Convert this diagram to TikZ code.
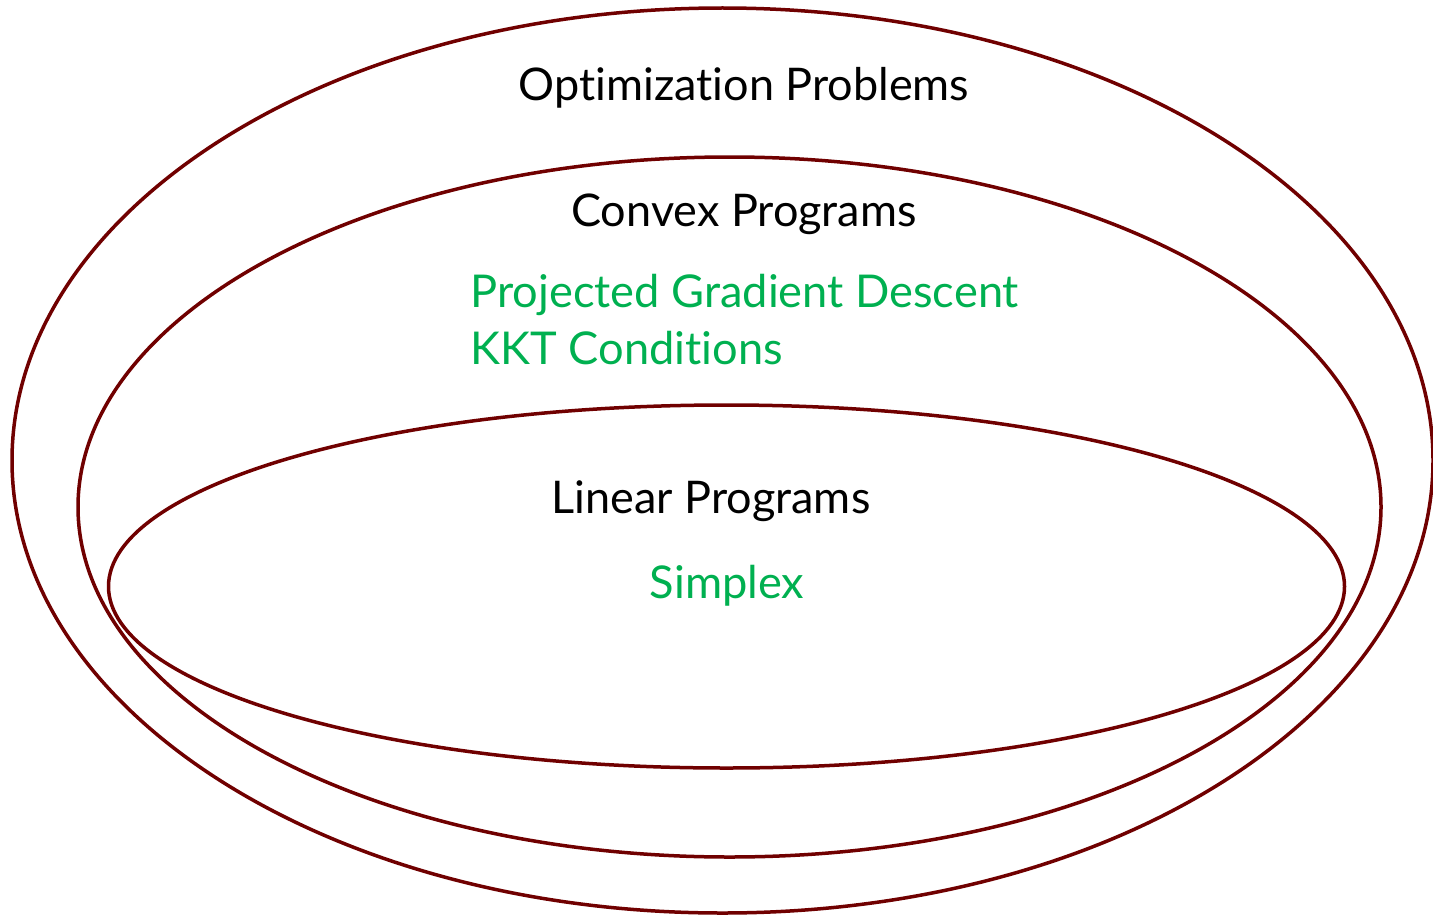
\documentclass[tikz,border=0pt]{standalone}
\usepackage{fontspec}
\setmainfont{Lato}[RawFeature={-liga;-dlig}]
\definecolor{ringred}{RGB}{112,0,0}
\definecolor{algogreen}{RGB}{0,176,80}
\tikzset{
  ring/.style={draw=ringred, line width=1.75pt},
  title/.style={font=\fontsize{22.5}{26}\selectfont, text=black, inner sep=0pt},
  algo/.style={font=\fontsize{22.6}{26}\selectfont, text=algogreen, inner sep=0pt},
}
\begin{document}
\begin{tikzpicture}[x=0.5pt,y=-0.5pt]
\useasboundingbox (0,0) rectangle (1433,915);
\draw[ring] (722.5,460.5) ellipse [x radius=355.25pt, y radius=226.25pt];
\draw[ring] (729.5,507) ellipse [x radius=325.75pt, y radius=175pt];
\draw[ring] (726.5,586.5) ellipse [x radius=309pt, y radius=90.75pt];
\node[title, anchor=base] (opt) at (744,101) {Optimization Problems};
\node[title, anchor=base] (cvx) at (744,226) {Convex Programs};
\node[algo, anchor=base west] (pgd) at (470,307) {Projected Gradient Descent};
\node[algo, anchor=base west] (kkt) at (470,364) {KKT Conditions};
\node[title, anchor=base] (lp) at (711,513) {Linear Programs};
\node[algo, anchor=base] (spx) at (727,598) {Simplex};
\end{tikzpicture}
\end{document}
